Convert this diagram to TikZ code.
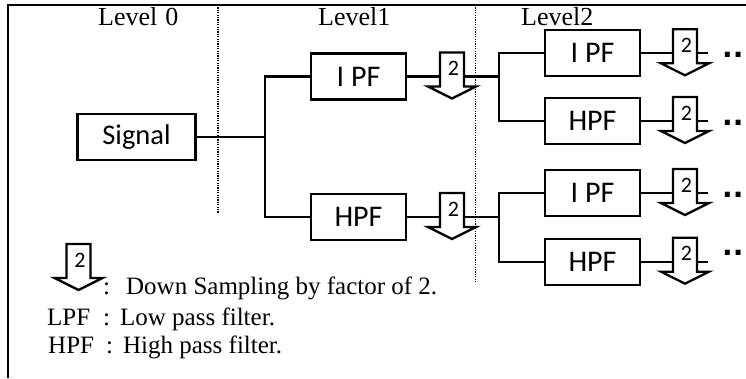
\documentclass[tikz,border=0pt]{standalone}
\usepackage{fontspec}
\setmainfont{Liberation Serif}
\newfontfamily\boxfont{Carlito}
\newfontfamily\dotfont{DejaVu Sans}
\begin{document}
\begin{tikzpicture}[x=1pt,y=-1pt, line join=miter,
  fbox/.style={draw, line width=2.3pt, minimum width=95pt, minimum height=46pt, inner sep=0pt, font=\boxfont\fontsize{30}{30}\selectfont},
  wire/.style={line width=2.3pt},
  dsarrow/.style={draw, line width=2.3pt, fill=white},
  lvl/.style={font=\fontsize{26}{26}\selectfont, anchor=base west, inner sep=0pt},
  leg/.style={font=\fontsize{25}{26}\selectfont, anchor=base west, inner sep=0pt},
  two/.style={font=\boxfont\fontsize{22}{22}\selectfont, inner sep=0pt},
  ddots/.style={font=\dotfont\bfseries\fontsize{28}{28}\selectfont, anchor=base west, inner sep=0pt},
  sepline/.style={line width=1.2pt, dash pattern=on 1.2pt off 1.2pt},
  ds/.pic={
    \path[dsarrow] (-12,-24) -- (12,-24) -- (12,10) -- (24,10) -- (0,22) -- (-24,10) -- (-12,10) -- cycle;
    \node[two] (-t) at (1.5,-8) {2};
    \coordinate (-l) at (-12,0);
    \coordinate (-r) at (12,0);
    \coordinate (-s) at (23,0);
  }]
\useasboundingbox (0,0) rectangle (746,378);
% frame
\draw[line width=2.5pt] (8,378) -- (8,5) -- (746,5);
% level separators
\coordinate (s1t) at (218,5); \coordinate (s1b) at (218,213);
\coordinate (s2t) at (475.5,5); \coordinate (s2b) at (475.5,283);
\draw[sepline] (s1t) -- (s1b);
\draw[sepline] (s2t) -- (s2b);
% level labels
\node[lvl] (l0) at (98,25) {Level\hspace{8pt}0};
\node[lvl] (l1) at (318,25) {Level1};
\node[lvl] (l2) at (521,25) {Level2};
% boxes
\node[fbox, minimum width=118pt, font=\boxfont\fontsize{28.5}{30}\selectfont] (sig) at (136.5,137) {Signal};
\node[fbox] (lpf1) at (358.5,76.5) {I PF};
\node[fbox] (hpf1) at (358.5,217) {HPF};
\node[fbox] (lpf2a) at (592.5,53.3) {I PF};
\node[fbox] (hpf2a) at (592.5,121) {HPF};
\node[fbox] (lpf2b) at (592.5,193) {I PF};
\node[fbox] (hpf2b) at (592.5,261.7) {HPF};
% down samplers
\pic (d1) at (452,76.5) {ds};
\pic (d2) at (452,217) {ds};
\pic (e1) at (685,53.3) {ds};
\pic (e2) at (685,121) {ds};
\pic (e3) at (685,193) {ds};
\pic (e4) at (685,261.7) {ds};
% junctions
\coordinate (j1) at (265,137);
\coordinate (j2) at (499,76.5);
\coordinate (j3) at (499,217);
% wires
\draw[wire] (sig.east) -- (j1);
\draw[wire] (lpf1.west) -| (j1) |- (hpf1.west);
\draw[wire] (lpf1.east) -- (d1-l);
\draw[wire] (hpf1.east) -- (d2-l);
\draw[wire] (d1-r) -- (j2);
\draw[wire] (d2-r) -- (j3);
\draw[wire] (lpf2a.west) -| (j2) |- (hpf2a.west);
\draw[wire] (lpf2b.west) -| (j3) |- (hpf2b.west);
\draw[wire] (lpf2a.east) -- (e1-l);
\draw[wire] (hpf2a.east) -- (e2-l);
\draw[wire] (lpf2b.east) -- (e3-l);
\draw[wire] (hpf2b.east) -- (e4-l);
\draw[wire] (e1-r) -- (e1-s);
\draw[wire] (e2-r) -- (e2-s);
\draw[wire] (e3-r) -- (e3-s);
\draw[wire] (e4-r) -- (e4-s);
% continuation dots
\node[ddots] (c1) at (722,57) {..};
\node[ddots] (c2) at (722,125) {..};
\node[ddots] (c3) at (722,197) {..};
\node[ddots] (c4) at (722,255) {..};
% legend
\pic (lg) at (78.5,268) {ds};
\node[leg] (t1) at (103,294) {:\hspace{16pt}Down Sampling by factor of 2.};
\node[leg] (t2) at (47,325) {\makebox[56pt][l]{LPF}:\hspace{10pt}Low pass filter.};
\node[leg] (t3) at (48,353) {\makebox[58pt][l]{HPF}:\hspace{10pt}High pass filter.};
\end{tikzpicture}
\end{document}
